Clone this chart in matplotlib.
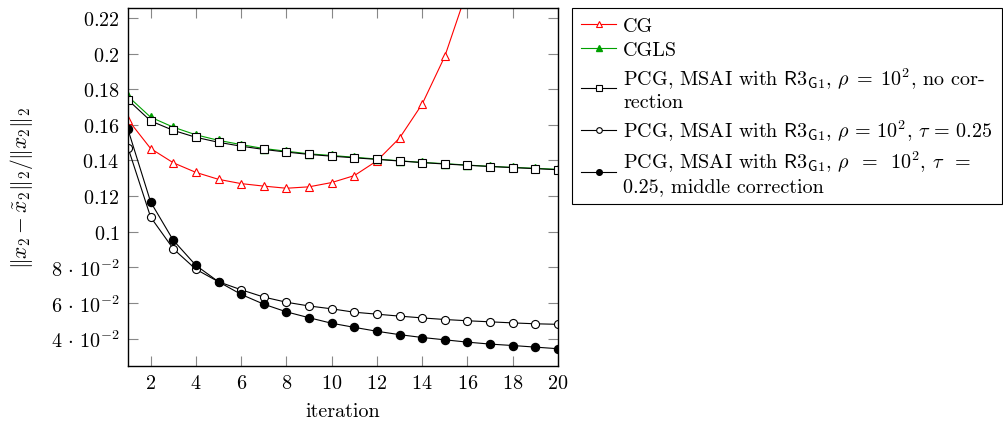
import numpy as np
import matplotlib; matplotlib.use("Agg")
import matplotlib.pyplot as plt

plt.rcParams["font.family"] = "serif"
plt.rcParams["font.serif"] = ["cmr10", "DejaVu Serif"]
plt.rcParams["mathtext.fontset"] = "cm"
plt.rcParams["axes.formatter.use_mathtext"] = True
plt.rcParams["font.size"] = 14.5

# data
iters = np.arange(1, 21)
cg = [0.1629, 0.1467, 0.1387, 0.1333, 0.1294, 0.1270, 0.1256, 0.1244, 0.1252, 0.1276,
      0.1315, 0.1398, 0.1526, 0.1717, 0.1985, 0.236, 0.29, 0.36, 0.46, 0.60]
cgls = [0.1760, 0.1643, 0.1587, 0.1544, 0.1513, 0.1489, 0.1467, 0.1452, 0.1437, 0.1428,
        0.1418, 0.1408, 0.1398, 0.1389, 0.1382, 0.1374, 0.1367, 0.1361, 0.1356, 0.1350]
pcg_nocorr = [0.1740, 0.1622, 0.1569, 0.1530, 0.1502, 0.1480, 0.1462, 0.1447, 0.1434, 0.1424,
              0.1415, 0.1406, 0.1397, 0.1388, 0.1380, 0.1373, 0.1366, 0.1360, 0.1354, 0.1348]
pcg_tau = [0.1472, 0.1082, 0.0904, 0.0789, 0.0719, 0.0674, 0.0633, 0.0604, 0.0583, 0.0567,
           0.0548, 0.0537, 0.0526, 0.0516, 0.0507, 0.0500, 0.0494, 0.0488, 0.0483, 0.0480]
pcg_mid = [0.1574, 0.1167, 0.0952, 0.0811, 0.0719, 0.0648, 0.0593, 0.0550, 0.0517, 0.0486,
           0.0463, 0.0441, 0.0422, 0.0406, 0.0393, 0.0380, 0.0369, 0.0361, 0.0352, 0.0343]

y_ticks = [0.04, 0.06, 0.08, 0.1, 0.12, 0.14, 0.16, 0.18, 0.2, 0.22]
y_labels = [r"$4\,\cdot\,10^{-2}$", r"$6\,\cdot\,10^{-2}$", r"$8\,\cdot\,10^{-2}$", "$0.1$", "$0.12$",
            "$0.14$", "$0.16$", "$0.18$", "$0.2$", "$0.22$"]
x_ticks = list(range(2, 21, 2))

R3 = r"$\mathsf{R3}_{\mathsf{G1}}$"
labels = [
    "CG",
    "CGLS",
    "PCG, MSAI with " + R3 + r", $\rho\;=\;10^2$, no cor-" + "\nrection",
    "PCG, MSAI with " + R3 + r", $\rho\,=\,10^2$, $\tau\,=\,0.25$",
    "PCG, MSAI with " + R3 + r", $\rho\;\;=\;\;10^2$, $\tau\;\;=$" + "\n0.25, middle correction",
]

fig = plt.figure(figsize=(10.04, 4.27), dpi=100)
ax = fig.add_axes([128 / 1004, 1 - 367 / 427, 430 / 1004, 358 / 427])

red = "#ff0000"
green = "#00a000"
ms = 5.8
ax.plot(iters, cg, color=red, lw=0.8, marker="^", ms=ms, mfc="white", mec=red, mew=0.8, label=labels[0])
ax.plot(iters, cgls, color=green, lw=0.8, marker="^", ms=ms, mfc=green, mec=green, label=labels[1])
ax.plot(iters, pcg_nocorr, color="black", lw=0.8, marker="s", ms=ms, mfc="white", mec="black", mew=0.8, label=labels[2])
ax.plot(iters, pcg_tau, color="black", lw=0.8, marker="o", ms=ms, mfc="white", mec="black", mew=0.8, label=labels[3])
ax.plot(iters, pcg_mid, color="black", lw=0.8, marker="o", ms=ms, mfc="black", mec="black", label=labels[4])

ax.set_xlim(1, 20)
ax.set_ylim(0.0246, 0.2256)
ax.set_xticks(x_ticks)
ax.set_xticklabels([f"${v}$" for v in x_ticks])
ax.set_yticks(y_ticks)
ax.set_yticklabels(y_labels)
ax.tick_params(direction="in", length=7, width=0.8, color="#888888",
               top=True, right=True, pad=6)
for sp in ax.spines.values():
    sp.set_linewidth(1.0)

ax.set_xlabel("iteration")
ax.xaxis.set_label_coords(0.5, -0.10)
ax.set_ylabel(r"$\|x_2-\tilde{x}_2\|_2/\|x_2\|_2$", fontsize=15.5)
ax.yaxis.set_label_coords(-0.216, 0.5)

leg = ax.legend(loc="upper left", bbox_to_anchor=(572 / 1004, 1 - 9 / 427),
                bbox_transform=fig.transFigure, frameon=True, fancybox=False,
                edgecolor="black", framealpha=1, borderpad=0.45, handlelength=1.75,
                handletextpad=0.35, labelspacing=0.3, markerscale=0.7,
                borderaxespad=0)
leg.get_frame().set_linewidth(0.8)

fig.savefig("out.png", dpi=100)
